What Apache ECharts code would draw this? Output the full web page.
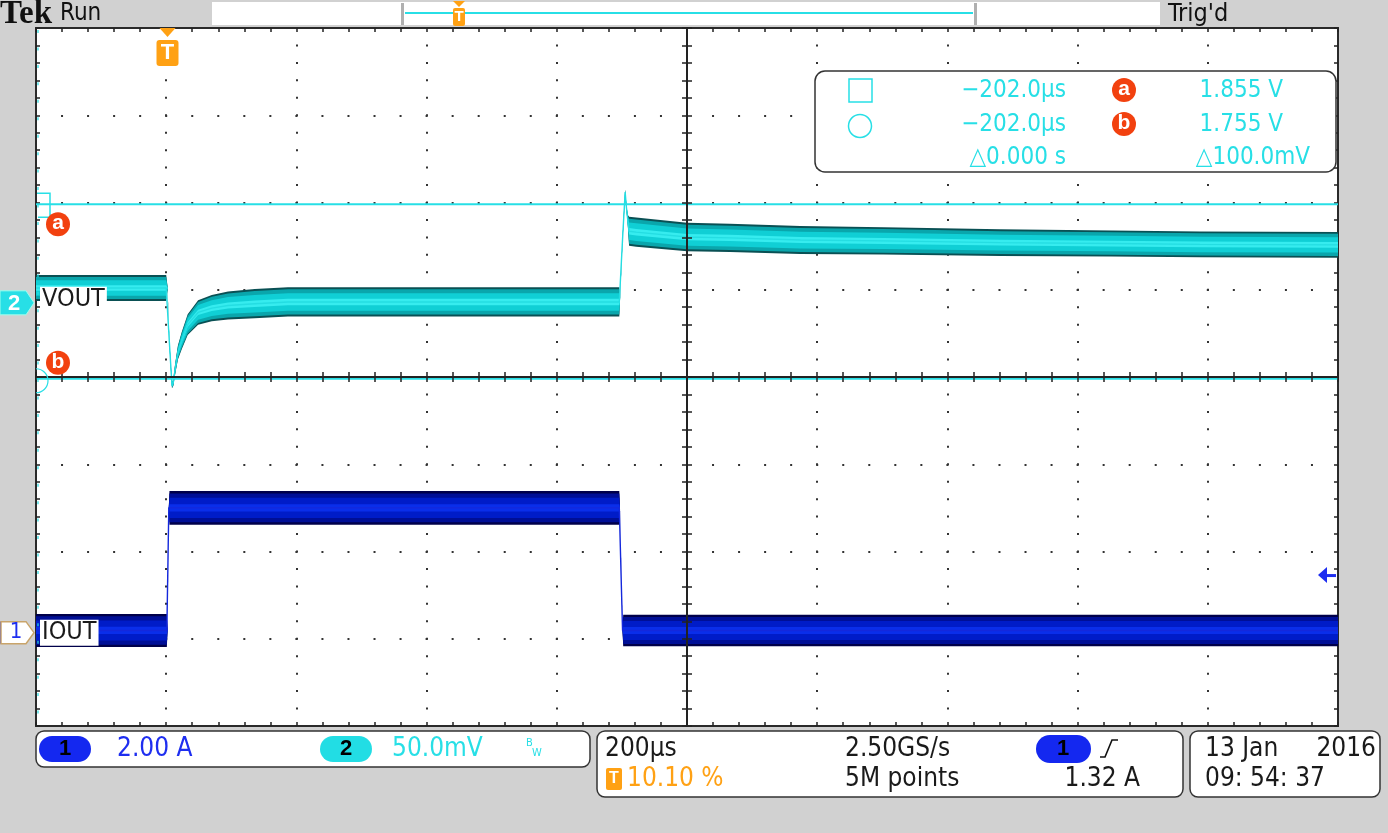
<!DOCTYPE html>
<html><head><meta charset="utf-8">
<script src="https://cdn.jsdelivr.net/npm/echarts@6/dist/echarts.min.js"></script>
<style>html,body{margin:0;padding:0;background:#d1d1d1;}#c{width:1388px;height:833px;}</style>
</head><body><div id="c"></div>
<script>
// ---------------- data ----------------
// Channel 2: VOUT (V) — band centre and peak-to-peak noise width
const voutTime  = [-202, -2, 0, 3, 6.9, 9, 11.5, 16, 22, 31, 47, 68, 93, 134, 185, 300, 450, 600, 694, 695, 699, 703, 705, 707, 709, 720, 798, 864, 972, 1100, 1279, 1450, 1586, 1798];
const voutMean  = [1.807, 1.807, 1.807, 1.775, 1.751, 1.753, 1.760, 1.770, 1.777, 1.786, 1.793, 1.7955, 1.797, 1.798, 1.799, 1.799, 1.799, 1.799, 1.799, 1.800, 1.835, 1.862, 1.853, 1.846, 1.8395, 1.839, 1.8362, 1.8357, 1.8345, 1.834, 1.833, 1.8325, 1.832, 1.8317];
const voutNoise = [0.0148, 0.0148, 0.002, 0.002, 0.003, 0.004, 0.006, 0.008, 0.010, 0.012, 0.014, 0.015, 0.016, 0.0168, 0.0168, 0.0168, 0.0168, 0.0168, 0.0168, 0.002, 0.002, 0.003, 0.003, 0.006, 0.0166, 0.0168, 0.0164, 0.0162, 0.016, 0.0157, 0.0152, 0.015, 0.0148, 0.0147];
// Channel 1: IOUT (A)
const ioutTime  = [-202, -1, 0, 2, 3, 694, 695, 699, 700, 1798];
const ioutMean  = [0.05, 0.05, 0.05, 2.86, 2.86, 2.86, 2.86, 0.05, 0.05, 0.05];
const ioutNoise = [0.76, 0.76, 0.05, 0.05, 0.77, 0.77, 0.05, 0.05, 0.72, 0.72];
// Scope settings / readouts
const cursorVolts = [1.855, 1.755];
const cursorTimes = [-202.0, -202.0];
const ch1Scale = 2.0, ch1Pos = -2.93;        // A/div, divisions
const ch2Scale = 0.05, ch2Center = 1.756, ch2Pos = 0.85;
const timePerDiv = 200, triggerPct = 10.10, triggerLevel = 1.32;
const statusTexts = ['2.50GS/s', '5M points', '13 Jan', '2016', '09: 54: 37'];

// ---------------- derived axis ranges ----------------
const tMin = -triggerPct / 100 * 10 * timePerDiv;
const tMax = tMin + 10 * timePerDiv;
const vMin = ch2Center - 4 * ch2Scale, vMax = ch2Center + 4 * ch2Scale;
const iMin = (-4 - ch1Pos) * ch1Scale, iMax = (4 - ch1Pos) * ch1Scale;

const FN = '"Liberation Sans Narrow","DejaVu Sans Condensed","Liberation Sans",sans-serif';
const CYAN = '#27dfe6', BLUE = '#1e2ef0', ORANGE = '#ffa114', RED = '#f2410f', INK = '#1a1a1a';

const bandWidths = [1.0, 0.86, 0.6, 0.22];
const voutColors = ['#0a5054', '#0aa6ac', '#10cfd5', '#36ecef'];
const ioutColors = ['#00004a', '#000f96', '#001cc8', '#0a2eea'];

function band(times, mean, noise, colors, yIdx, lineColor) {
  const custom = {
    type: 'custom', xAxisIndex: 4, yAxisIndex: yIdx, silent: true, z: 3,
    data: times.map((t, i) => [t, mean[i], noise[i]]),
    encode: { x: 0, y: 1 },
    renderItem: function (params, api) {
      if (params.dataIndex !== 0) return null;
      const children = bandWidths.map(function (w, k) {
        const up = times.map((t, i) => api.coord([t, mean[i] + noise[i] * w / 2]));
        const lo = times.map((t, i) => api.coord([t, mean[i] - noise[i] * w / 2])).reverse();
        return { type: 'polygon', shape: { points: up.concat(lo) }, style: { fill: colors[k], stroke: null } };
      });
      return { type: 'group', children: children };
    }
  };
  const line = { type: 'line', xAxisIndex: 4, yAxisIndex: yIdx, data: times.map((t, i) => [t, mean[i]]),
    symbol: 'none', silent: true, lineStyle: { color: lineColor, width: 1.4 }, z: 4 };
  return [custom, line];
}

const tickStyle = { color: '#222', width: 1.5 };
function divAxis(extra, isX) {
  return Object.assign({
    type: 'value', min: isX ? -5 : -4, max: isX ? 5 : 4, interval: 1,
    axisLabel: { show: false }, splitLine: { show: false },
    axisLine: { show: true, lineStyle: { color: '#222', width: 2 } },
    axisTick: { show: true, length: 5, lineStyle: tickStyle },
    minorTick: { show: true, splitNumber: 5, length: 5, lineStyle: tickStyle }
  }, extra);
}
const centerLine = { show: true, onZero: true, onZeroAxisIndex: 0, lineStyle: { color: '#222', width: 2 } };
const edgeLine = { show: true, onZero: false, lineStyle: { color: '#2a2a2a', width: 2 } };
const edgeTick = { show: true, inside: true, length: 4, lineStyle: tickStyle };
const edgeMinor = { show: true, splitNumber: 5, length: 4, lineStyle: tickStyle };

const xAxes = [
  divAxis({ position: 'bottom', axisLine: centerLine, axisTick: { show: true, inside: false, length: 5, lineStyle: tickStyle }, z: 6 }, true),
  divAxis({ position: 'bottom', axisLine: centerLine, axisTick: { show: true, inside: true, length: 5, lineStyle: tickStyle }, z: 6 }, true),
  divAxis({ position: 'top', axisLine: edgeLine, axisTick: edgeTick, minorTick: edgeMinor }, true),
  divAxis({ position: 'bottom', axisLine: edgeLine, axisTick: edgeTick, minorTick: edgeMinor }, true),
  { type: 'value', min: tMin, max: tMax, show: false },
  { type: 'value', min: -5, max: 5, interval: 1, position: 'bottom', axisLine: { show: false, onZero: false }, axisTick: { show: false }, axisLabel: { show: false },
    splitLine: { show: true, lineStyle: { color: '#333', width: 2, type: [2, 15.45], dashOffset: 1 } }, z: 0 }
];
const yAxes = [
  divAxis({ position: 'left', axisLine: centerLine, axisTick: { show: true, inside: false, length: 5, lineStyle: tickStyle }, z: 6 }, false),
  divAxis({ position: 'left', axisLine: centerLine, axisTick: { show: true, inside: true, length: 5, lineStyle: tickStyle }, z: 6 }, false),
  divAxis({ position: 'left', axisLine: edgeLine, axisTick: edgeTick, minorTick: edgeMinor }, false),
  divAxis({ position: 'right', axisLine: edgeLine, axisTick: edgeTick, minorTick: edgeMinor }, false),
  { type: 'value', min: vMin, max: vMax, show: false },
  { type: 'value', min: iMin, max: iMax, show: false },
  { type: 'value', min: -4, max: 4, interval: 1, position: 'left', axisLine: { show: false, onZero: false }, axisTick: { show: false }, axisLabel: { show: false },
    splitLine: { show: true, lineStyle: { color: '#333', width: 2, type: [2, 24.04], dashOffset: 1 } }, z: 0 }
];

const series = []
  .concat(band(voutTime, voutMean, voutNoise, voutColors, 4, '#24dde2'))
  .concat(band(ioutTime, ioutMean, ioutNoise, ioutColors, 5, '#1428dc'));
cursorVolts.forEach(function (v) {
  series.push({ type: 'line', xAxisIndex: 4, yAxisIndex: 4, data: [[tMin, v], [tMax, v]], symbol: 'none', silent: true, z: 5,
    lineStyle: { color: CYAN, width: 2 } });
});

const chart = echarts.init(document.getElementById('c'), null, { renderer: 'canvas' });
chart.setOption({
  animation: false, backgroundColor: '#d1d1d1',
  grid: { left: 36, top: 28, width: 1302, height: 698, show: true, backgroundColor: '#ffffff', borderColor: '#2a2a2a', borderWidth: 2 },
  xAxis: xAxes, yAxis: yAxes, series: series
});

// ---------------- overlay (scope UI) ----------------
function T(x, y, text, size, fill, align, extra) {
  const st = Object.assign({ text: text, fill: fill || INK, font: (size || 24) + 'px ' + FN, align: align || 'left', verticalAlign: 'middle' }, extra || {});
  return { type: 'text', x: x, y: y, z: 100, silent: true, style: st };
}
function R(x, y, w, h, r, fill, stroke, lw) {
  return { type: 'rect', z: 99, silent: true, shape: { x: x, y: y, width: w, height: h, r: r || 0 }, style: { fill: fill, stroke: stroke || null, lineWidth: lw || 1 } };
}
function P(points, fill, stroke, lw, closed) {
  return { type: closed === false ? 'polyline' : 'polygon', z: 100, silent: true, shape: { points: points }, style: { fill: closed === false ? null : fill, stroke: stroke || null, lineWidth: lw || 1 } };
}
function C(cx, cy, r, fill, stroke, lw) {
  return { type: 'circle', z: 100, silent: true, shape: { cx: cx, cy: cy, r: r }, style: { fill: fill, stroke: stroke || null, lineWidth: lw || 1 } };
}
const BOLD = function (s) { return 'bold ' + s + 'px "Liberation Sans",sans-serif'; };

const yA = chart.convertToPixel({ yAxisIndex: 4 }, cursorVolts[0]);
const yB = chart.convertToPixel({ yAxisIndex: 4 }, cursorVolts[1]);
const xT = chart.convertToPixel({ xAxisIndex: 4 }, 0);
const yTrig = chart.convertToPixel({ yAxisIndex: 5 }, triggerLevel);
const yM2 = chart.convertToPixel({ yAxisIndex: 0 }, ch2Pos);
const yM1 = chart.convertToPixel({ yAxisIndex: 0 }, ch1Pos);

const fmtT = v => (v < 0 ? '\u2212' : '') + Math.abs(v).toFixed(1) + '\u00b5s';
const g = [];
// top bar
g.push(T(0, 14, 'Tek', 33, '#111', 'left', { font: 'bold 33px "Liberation Serif","DejaVu Serif",serif' }));
g.push(T(60, 14, 'Run', 24, '#111'));
g.push(R(212, 2, 948, 23, 0, '#ffffff'));
g.push(R(401, 3, 3, 22, 0, '#b0b0b0'));
g.push(R(974, 3, 3, 22, 0, '#b0b0b0'));
g.push(R(405, 12, 568, 2, 0, CYAN));
g.push(P([[453, 1], [465, 1], [459, 7]], ORANGE));
g.push(R(453, 8, 12, 18, 2, ORANGE));
g.push(T(459, 17, 'T', 15, '#fff', 'center', { font: BOLD(15) }));
g.push(T(1168, 14, "Trig'd", 25, '#111'));

// trigger position marker
g.push(P([[xT - 8, 28], [xT + 8, 28], [xT, 37]], ORANGE));
g.push(R(xT - 11, 40, 22, 26, 3, ORANGE));
g.push(T(xT, 53, 'T', 22, '#fff', 'center', { font: BOLD(22) }));

// left-edge cyan tick column (channel-2 graticule markers)
g.push({ type: 'line', z: 98, silent: true, shape: { x1: 38, y1: 30, x2: 38, y2: 724 }, style: { stroke: CYAN, lineWidth: 1.5, lineDash: [3, 14.45], opacity: 0.8 } });

// cursor markers
g.push(P([[37, yA - 11], [50, yA - 11], [50, yA + 13], [38, yA + 13]], null, CYAN, 1.5, false));
g.push(C(58, yA + 20, 12, RED));
g.push(T(58, yA + 19, 'a', 21, '#fff', 'center', { font: BOLD(21) }));
g.push({ type: 'arc', z: 100, silent: true, shape: { cx: 36, cy: yB + 2, r: 12, startAngle: -Math.PI / 2, endAngle: Math.PI / 2 }, style: { stroke: CYAN, fill: null, lineWidth: 1.2 } });
g.push(C(58, yB - 16, 12, RED));
g.push(T(58, yB - 17, 'b', 21, '#fff', 'center', { font: BOLD(21) }));

// channel markers and labels
g.push(P([[0, yM2 - 12], [26, yM2 - 12], [34, yM2], [26, yM2 + 12], [0, yM2 + 12]], CYAN, '#9fe', 1));
g.push(T(14, yM2 + 1, '2', 22, '#fff', 'center', { font: BOLD(22) }));
g.push(T(40, yM2 - 3, 'VOUT', 25, INK, 'left', { backgroundColor: '#fff', padding: [1, 2, 0, 2] }));
g.push(P([[1, yM1 - 11], [26, yM1 - 11], [34, yM1], [26, yM1 + 11], [1, yM1 + 11]], '#fff', '#c9a46a', 1.5));
g.push(R(0, yM1 - 11, 3, 22, 0, BLUE));
g.push(T(16, yM1, '1', 22, BLUE, 'center'));
g.push(T(40, yM1, 'IOUT', 25, INK, 'left', { backgroundColor: '#fff', padding: [1, 2, 0, 2] }));

// trigger level arrow
g.push(P([[1318, yTrig], [1327, yTrig - 8], [1327, yTrig + 8]], BLUE));
g.push(R(1326, yTrig - 1, 10, 3, 0, BLUE));

// cursor readout box
g.push(R(815, 71, 521, 101, 10, '#ffffff', '#333', 1.5));
g.push(R(849, 79, 23, 23, 0, null, CYAN, 1.5));
g.push(C(860, 126, 11.5, null, CYAN, 1.5));
g.push(T(1066, 91, fmtT(cursorTimes[0]), 24, CYAN, 'right'));
g.push(T(1066, 125, fmtT(cursorTimes[1]), 24, CYAN, 'right'));
g.push(T(1066, 158, '\u25b3' + Math.abs(cursorTimes[0] - cursorTimes[1]).toFixed(3) + ' s', 24, CYAN, 'right'));
g.push(C(1124, 90, 12, RED));
g.push(T(1124, 89, 'a', 21, '#fff', 'center', { font: BOLD(21) }));
g.push(C(1124, 124, 12, RED));
g.push(T(1124, 123, 'b', 21, '#fff', 'center', { font: BOLD(21) }));
g.push(T(1283, 91, cursorVolts[0].toFixed(3) + ' V', 24, CYAN, 'right'));
g.push(T(1283, 125, cursorVolts[1].toFixed(3) + ' V', 24, CYAN, 'right'));
g.push(T(1310, 158, '\u25b3' + ((cursorVolts[0] - cursorVolts[1]) * 1000).toFixed(1) + 'mV', 24, CYAN, 'right'));

// status bar
g.push(R(36, 731, 554, 36, 8, '#ffffff', '#333', 1.5));
g.push(R(39, 736, 52, 26, 13, '#1428f0'));
g.push(T(65, 749, '1', 22, '#000', 'center', { font: BOLD(22) }));
g.push(T(117, 749, ch1Scale.toFixed(2) + ' A', 26, BLUE));
g.push(R(320, 736, 52, 26, 13, '#22dde4'));
g.push(T(346, 749, '2', 22, '#000', 'center', { font: BOLD(22) }));
g.push(T(392, 749, (ch2Scale * 1000).toFixed(1) + 'mV', 26, CYAN));
g.push(T(526, 743, 'B', 11, CYAN));
g.push(T(532, 753, 'W', 11, CYAN));

g.push(R(597, 731, 586, 66, 8, '#ffffff', '#333', 1.5));
g.push(T(605, 749, timePerDiv + '\u00b5s', 26, INK));
g.push(T(845, 749, statusTexts[0], 26, INK));
g.push(R(1036, 735, 55, 28, 14, '#1428f0'));
g.push(T(1063, 749, '1', 22, '#000', 'center', { font: BOLD(22) }));
g.push(P([[1100, 757], [1105, 757], [1112, 740], [1118, 740]], null, '#111', 1.6, false));
g.push(R(606, 768, 16, 22, 2, ORANGE));
g.push(T(614, 779, 'T', 16, '#fff', 'center', { font: BOLD(16) }));
g.push(T(627, 779, triggerPct.toFixed(2) + ' %', 26, ORANGE));
g.push(T(845, 779, statusTexts[1], 26, INK));
g.push(T(1140, 779, triggerLevel.toFixed(2) + ' A', 26, INK, 'right'));

g.push(R(1190, 731, 190, 66, 8, '#ffffff', '#333', 1.5));
g.push(T(1205, 749, statusTexts[2], 26, INK));
g.push(T(1376, 749, statusTexts[3], 26, INK, 'right'));
g.push(T(1205, 779, statusTexts[4], 26, INK));

chart.setOption({ graphic: g });
</script>
</body></html>
